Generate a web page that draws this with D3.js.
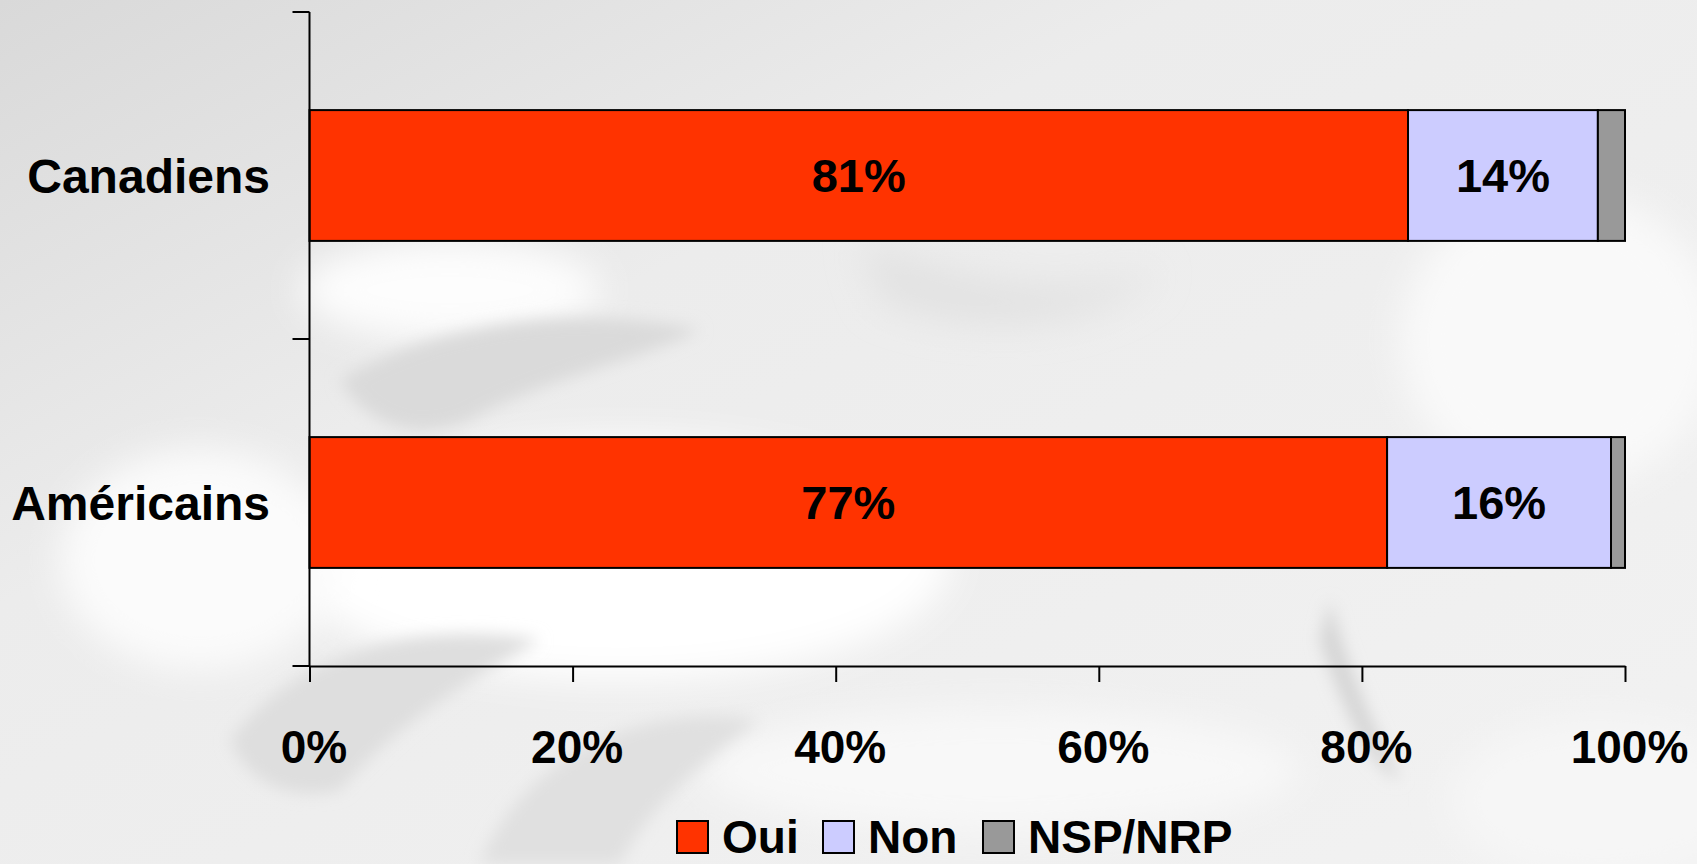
<!DOCTYPE html>
<html>
<head>
<meta charset="utf-8">
<script src="https://cdn.jsdelivr.net/npm/d3@7"></script>
<style>
  html, body { margin: 0; padding: 0; background: #ececec; }
  svg { display: block; }
  text { font-family: "Liberation Sans", Arial, Helvetica, sans-serif; font-weight: bold; fill: #000; }
</style>
</head>
<body>
<svg id="chart" width="1697" height="864"></svg>
<script>
// ---- data ----
const categories = ["Canadiens", "Américains"];
const seriesNames = ["Oui", "Non", "NSP/NRP"];
const oui = [81, 77];
const non = [14, 16];
const nsp = [2, 1];
const tickValues = [0, 0.2, 0.4, 0.6, 0.8, 1.0];
const tickLabels = ["0%", "20%", "40%", "60%", "80%", "100%"];
const colors = ["#FF3300", "#CCCCFF", "#999999"];

const rows = categories.map((c, i) => ({ cat: c, "Oui": oui[i], "Non": non[i], "NSP/NRP": nsp[i] }));

const W = 1697, H = 864;
const svg = d3.select("#chart");

// ---- background (watermark-like) ----
const defs = svg.append("defs");
const bgGrad = defs.append("linearGradient").attr("id", "bgG")
  .attr("x1", "0").attr("y1", "0").attr("x2", "1").attr("y2", "1");
bgGrad.append("stop").attr("offset", "0").attr("stop-color", "#d9d9d9");
bgGrad.append("stop").attr("offset", "0.35").attr("stop-color", "#ececec");
bgGrad.append("stop").attr("offset", "1").attr("stop-color", "#f2f2f2");
const blur = defs.append("filter").attr("id", "blur").attr("x", "-50%").attr("y", "-50%").attr("width", "200%").attr("height", "200%");
blur.append("feGaussianBlur").attr("stdDeviation", 18);
const blur2 = defs.append("filter").attr("id", "blur2").attr("x", "-50%").attr("y", "-50%").attr("width", "200%").attr("height", "200%");
blur2.append("feGaussianBlur").attr("stdDeviation", 8);

const bg = svg.append("g");
bg.append("rect").attr("width", W).attr("height", H).attr("fill", "url(#bgG)");
// light areas
bg.append("ellipse").attr("cx", 620).attr("cy", 560).attr("rx", 330).attr("ry", 120).attr("fill", "#ffffff").attr("filter", "url(#blur)");
bg.append("ellipse").attr("cx", 450).attr("cy", 290).attr("rx", 150).attr("ry", 50).attr("fill", "#fdfdfd").attr("filter", "url(#blur)");
bg.append("ellipse").attr("cx", 200).attr("cy", 560).attr("rx", 140).attr("ry", 110).attr("fill", "#fbfbfb").attr("filter", "url(#blur)");
bg.append("ellipse").attr("cx", 1560).attr("cy", 340).attr("rx", 160).attr("ry", 150).attr("fill", "#f9f9f9").attr("filter", "url(#blur)");
bg.append("ellipse").attr("cx", 1000).attr("cy", 770).attr("rx", 300).attr("ry", 60).attr("fill", "#f8f8f8").attr("filter", "url(#blur)");
bg.append("ellipse").attr("cx", 1600).attr("cy", 800).attr("rx", 150).attr("ry", 80).attr("fill", "#f6f6f6").attr("filter", "url(#blur)");
// darker leaf lobes
bg.append("path").attr("d", "M340,380 C420,330 560,300 700,330 C640,360 540,380 470,420 C420,440 370,430 340,380 Z")
  .attr("fill", "#dadada").attr("filter", "url(#blur2)");
bg.append("path").attr("d", "M230,740 C300,650 420,620 540,640 C470,680 400,720 340,790 C300,800 250,790 230,740 Z")
  .attr("fill", "#dedede").attr("filter", "url(#blur2)");
bg.append("path").attr("d", "M480,864 C520,760 640,700 760,720 C700,760 640,820 620,864 Z")
  .attr("fill", "#e0e0e0").attr("filter", "url(#blur2)");
bg.append("path").attr("d", "M1330,600 C1350,680 1380,740 1400,780 C1370,770 1340,700 1320,640 Z")
  .attr("fill", "#d4d4d4").attr("filter", "url(#blur2)");
bg.append("path").attr("d", "M860,240 C960,280 1050,300 1160,270 C1100,330 980,340 880,300 Z")
  .attr("fill", "#e2e2e2").attr("filter", "url(#blur)");

// ---- layout ----
const x0 = 309.5, x1 = 1625;
const yTop = 12, yBot = 666;

const x = d3.scaleLinear().domain([0, 1]).range([x0, x1]);
const y = d3.scaleBand().domain(categories).range([yTop, yBot]).padding(0);
const barFrac = 0.4;

const stack = d3.stack().keys(seriesNames).offset(d3.stackOffsetExpand);
const stacked = stack(rows);

const g = svg.append("g");

// bars
stacked.forEach((layer, si) => {
  g.selectAll(null).data(layer).enter().append("rect")
    .attr("x", d => x(d[0]))
    .attr("width", d => x(d[1]) - x(d[0]))
    .attr("y", d => y(d.data.cat) + y.bandwidth() * (1 - barFrac) / 2)
    .attr("height", y.bandwidth() * barFrac)
    .attr("fill", colors[si])
    .attr("stroke", "#000")
    .attr("stroke-width", 2);
});

// value labels for Oui and Non
[0, 1].forEach(si => {
  const raw = si === 0 ? oui : non;
  g.selectAll(null).data(stacked[si]).enter().append("text")
    .attr("x", d => (x(d[0]) + x(d[1])) / 2)
    .attr("y", d => y(d.data.cat) + y.bandwidth() / 2)
    .attr("dy", "0.36em")
    .attr("text-anchor", "middle")
    .style("font-size", "47px")
    .text((d, i) => raw[i] + "%");
});

// y axis
const yAxisG = g.append("g");
yAxisG.append("line").attr("x1", x0).attr("x2", x0).attr("y1", yTop).attr("y2", yBot)
  .attr("stroke", "#000").attr("stroke-width", 2);
const yTicks = [yTop, y(categories[1]), yBot];
yAxisG.selectAll(null).data(yTicks).enter().append("line")
  .attr("x1", x0 - 17).attr("x2", x0).attr("y1", d => d).attr("y2", d => d)
  .attr("stroke", "#000").attr("stroke-width", 2);
yAxisG.selectAll(null).data(categories).enter().append("text")
  .attr("x", 270)
  .attr("y", d => y(d) + y.bandwidth() / 2)
  .attr("dy", "0.36em")
  .attr("text-anchor", "end")
  .style("font-size", "48px")
  .text(d => d);

// x axis
const xAxis = d3.axisBottom(x).tickValues(tickValues).tickFormat((d, i) => tickLabels[i])
  .tickSizeInner(16).tickSizeOuter(0).tickPadding(48);
const xAxisG = g.append("g").attr("transform", `translate(0,${yBot})`).call(xAxis);
xAxisG.select(".domain").attr("stroke", "#000").attr("stroke-width", 2);
xAxisG.selectAll(".tick line").attr("stroke", "#000").attr("stroke-width", 2);
xAxisG.selectAll(".tick text")
  .attr("font-family", null)
  .style("font-size", "46px")
  .attr("dx", 4)
  .attr("fill", "#000");

// legend
const legendX = [677, 823, 983];
const leg = g.append("g");
seriesNames.forEach((s, i) => {
  leg.append("rect").attr("x", legendX[i]).attr("y", 821).attr("width", 31).attr("height", 32)
    .attr("fill", colors[i]).attr("stroke", "#000").attr("stroke-width", 2);
  leg.append("text").attr("x", legendX[i] + 45).attr("y", 853)
    .style("font-size", "46px").text(s);
});
</script>
</body>
</html>
